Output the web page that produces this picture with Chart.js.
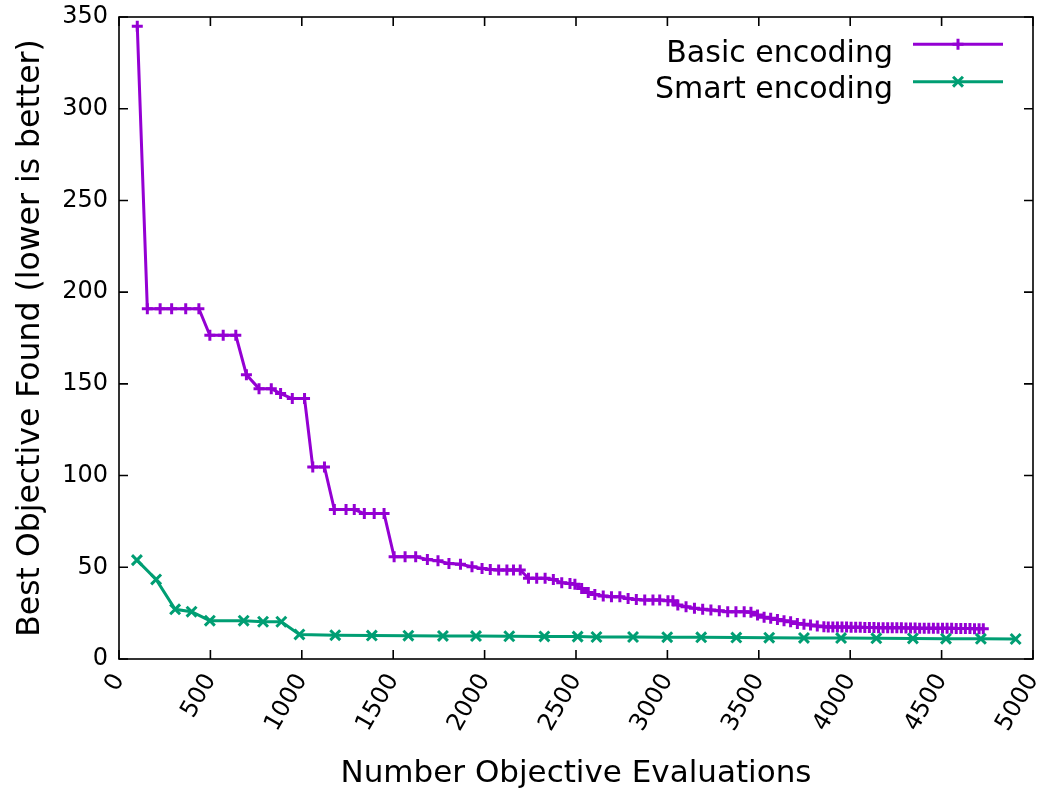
<!DOCTYPE html>
<html>
<head>
<meta charset="utf-8">
<script src="https://cdn.jsdelivr.net/npm/chart.js@4/dist/chart.umd.min.js"></script>
<style>
  html, body { margin: 0; padding: 0; background: #ffffff; }
  canvas { display: block; }
</style>
</head>
<body>
<canvas id="c" width="1043" height="793"></canvas>
<script>
// Best objective value found so far, per number of objective evaluations
const basicEvals = [100,155,225,288,365,437,497,570,639,697,766,833,884,948,1015,1060,1124,1178,1242,1287,
  1342,1396,1450,1505,1565,1623,1687,1745,1805,1868,1931,1986,2031,2077,2122,2158,2195,2240,2285,2331,
  2376,2422,2467,2494,2531,2567,2603,2649,2694,2740,2785,2830,2876,2921,2958,3003,3030,3057,3102,3148,
  3193,3238,3284,3330,3375,3420,3457,3493,3529,3565,3602,3638,3674,3711,3747,3783,3820,3856,
  3880,3905,3930,3955,3980,4005,4030,4055,4080,4105,4130,4155,4180,4205,4230,4255,4280,4305,4330,4355,
  4380,4405,4430,4455,4480,4505,4530,4555,4580,4605,4630,4655,4680,4705,4728];
const basicBest = [345,191,191,191,191,191,176.5,176.5,176.5,155,147.4,147.4,144.7,142,142,104.7,104.7,81.5,81.5,81.5,
  79.3,79.3,79.3,55.7,55.7,55.7,54.3,53.5,52.1,51.7,50.3,49.4,48.8,48.5,48.5,48.5,48.5,44,44,44,
  43.4,41.6,41.2,40.8,38.5,36.2,35.1,34.3,33.9,33.9,33,32.5,32.1,32.1,32.1,31.8,31.8,29.4,28.5,27.6,
  27.1,26.7,26.3,25.8,25.8,25.8,25.5,24,22.7,22.2,21.6,20.9,20.3,19.4,19,18.5,18,17.6,
  17.5,17.5,17.4,17.4,17.4,17.3,17.3,17.3,17.2,17.2,17.2,17.1,17.1,17.1,17,17,17,16.9,16.9,16.9,
  16.8,16.8,16.8,16.8,16.7,16.7,16.7,16.7,16.6,16.6,16.6,16.6,16.5,16.5,16.5];

const smartEvals = [98,203,307,397,497,682,788,888,987,1183,1383,1583,1772,1953,2135,2327,2509,2612,2812,2999,
  3185,3377,3557,3747,3950,4143,4343,4524,4715,4905];
const smartBest = [53.9,43.4,27.1,25.8,20.9,20.9,20.3,20.3,13.4,13,12.8,12.7,12.6,12.5,12.4,12.3,12.2,12,12,11.9,
  11.8,11.7,11.6,11.5,11.4,11.3,11.2,11.1,11,10.9];

const seriesNames = ['Basic encoding', 'Smart encoding'];
const xTickValues = [0,500,1000,1500,2000,2500,3000,3500,4000,4500,5000];
const yTickValues = [0,50,100,150,200,250,300,350];
const xTitle = 'Number Objective Evaluations';
const yTitle = 'Best Objective Found (lower is better)';

const FONT = "'DejaVu Sans', 'Liberation Sans', sans-serif";
const PURPLE = '#9400d3';
const GREEN = '#009e73';

const toPoints = (xs, ys) => xs.map((v, i) => ({ x: v, y: ys[i] }));

// Box frame, inward tick marks on all four sides, and a right-aligned key
const framePlugin = {
  id: 'frame',
  afterDatasetsDraw(chart) {
    const { ctx, chartArea: a, scales: { x, y } } = chart;
    ctx.save();
    ctx.strokeStyle = '#000';
    ctx.lineWidth = 1.6;
    ctx.strokeRect(a.left, a.top, a.right - a.left, a.bottom - a.top);
    const L = 9;
    ctx.beginPath();
    x.ticks.forEach(t => {
      const px = x.getPixelForValue(t.value);
      ctx.moveTo(px, a.bottom); ctx.lineTo(px, a.bottom - L);
      ctx.moveTo(px, a.top); ctx.lineTo(px, a.top + L);
    });
    y.ticks.forEach(t => {
      const py = y.getPixelForValue(t.value);
      ctx.moveTo(a.left, py); ctx.lineTo(a.left + L, py);
      ctx.moveTo(a.right, py); ctx.lineTo(a.right - L, py);
    });
    ctx.stroke();

    // key
    const textRight = 893, lineFrom = 913, lineTo = 1003;
    const rows = [{ line: 44.3, text: 61.7 }, { line: 81.7, text: 98.3 }];
    chart.data.datasets.forEach((ds, i) => {
      const r = rows[i];
      ctx.fillStyle = '#000';
      ctx.font = '30px ' + FONT;
      ctx.textAlign = 'right';
      ctx.textBaseline = 'alphabetic';
      ctx.fillText(ds.label, textRight, r.text);
      ctx.strokeStyle = ds.borderColor;
      ctx.lineWidth = ds.borderWidth;
      ctx.beginPath();
      ctx.moveTo(lineFrom, r.line); ctx.lineTo(lineTo, r.line);
      ctx.stroke();
      ctx.lineWidth = ds.pointBorderWidth;
      ctx.fillStyle = ds.borderColor;
      Chart.helpers.drawPoint(ctx, {
        pointStyle: ds.pointStyle, radius: ds.pointRadius,
        borderWidth: ds.pointBorderWidth, rotation: 0
      }, (lineFrom + lineTo) / 2, r.line);
    });
    ctx.restore();
  }
};

new Chart(document.getElementById('c'), {
  type: 'line',
  data: {
    datasets: [
      {
        label: seriesNames[0],
        data: toPoints(basicEvals, basicBest),
        borderColor: PURPLE, backgroundColor: PURPLE,
        borderWidth: 3, tension: 0, fill: false,
        pointStyle: 'cross', pointRadius: 5.5, pointBorderWidth: 3,
        pointBorderColor: PURPLE, order: 1
      },
      {
        label: seriesNames[1],
        data: toPoints(smartEvals, smartBest),
        borderColor: GREEN, backgroundColor: GREEN,
        borderWidth: 3, tension: 0, fill: false,
        pointStyle: 'crossRot', pointRadius: 7, pointBorderWidth: 3,
        pointBorderColor: GREEN, order: 0
      }
    ]
  },
  options: {
    responsive: false,
    animation: false,
    events: [],
    layout: { padding: { top: 17, right: 7, left: 0, bottom: 0 } },
    plugins: { legend: { display: false }, tooltip: { enabled: false } },
    scales: {
      x: {
        type: 'linear', min: 0, max: 5000,
        afterBuildTicks: s => { s.ticks = xTickValues.map(v => ({ value: v })); },
        afterFit: s => { s.height = 134; s.paddingLeft = 0; s.paddingRight = 0; },
        grid: { display: false, drawTicks: false },
        border: { display: false },
        ticks: {
          autoSkip: false, minRotation: 60, maxRotation: 60, padding: 10,
          color: '#000', font: { family: FONT, size: 24 },
          callback: v => String(v)
        },
        title: {
          display: true, text: xTitle, color: '#000',
          font: { family: FONT, size: 31 }, padding: { top: 0, bottom: 0 }
        }
      },
      y: {
        type: 'linear', min: 0, max: 350,
        afterBuildTicks: s => { s.ticks = yTickValues.map(v => ({ value: v })); },
        afterFit: s => { s.width = 119; s.paddingTop = 0; s.paddingBottom = 0; },
        grid: { display: false, drawTicks: false },
        border: { display: false },
        ticks: {
          padding: 11, color: '#000', font: { family: FONT, size: 24 },
          callback: v => String(v)
        },
        title: {
          display: true, text: yTitle, color: '#000',
          font: { family: FONT, size: 31.5 }, padding: { top: 12, bottom: 0 }
        }
      }
    }
  },
  plugins: [framePlugin]
});
</script>
</body>
</html>
